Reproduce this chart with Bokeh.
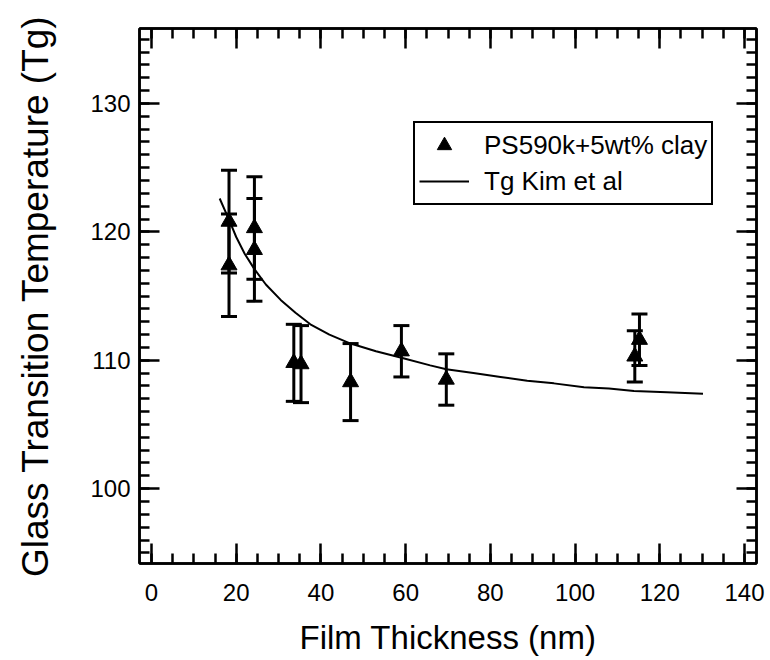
from bokeh.plotting import figure
from bokeh.models import (Range1d, LinearAxis, FixedTicker, Whisker, TeeHead,
                          ColumnDataSource, Legend, LegendItem)
from bokeh.embed import file_html
from bokeh.resources import INLINE

# ---- data ----
thickness = [18.3, 18.3, 24.3, 24.3, 33.6, 35.3, 47.0, 59.0, 69.6, 114.1, 115.2]
tg = [120.8, 117.4, 120.3, 118.6, 109.8, 109.7, 108.3, 110.7, 108.5, 110.3, 111.6]
tg_err = [4.0, 4.0, 4.0, 4.0, 3.0, 3.0, 3.0, 2.0, 2.0, 2.0, 2.0]

kim_x = [16.1, 18.5, 20, 22, 24.3, 27, 30.5, 34, 37.5, 42, 47, 53, 59, 65.8,
         69.6, 76, 82.4, 88.7, 95, 102.1, 108, 113.9, 121.7, 130.2]
kim_tg = [122.6, 120.8, 119.6, 118.3, 117.1, 115.9, 114.7, 113.7, 112.8, 112.0,
          111.3, 110.7, 110.2, 109.6, 109.3, 109.0, 108.7, 108.4, 108.2, 107.9,
          107.8, 107.6, 107.5, 107.4]

x_major = [0, 20, 40, 60, 80, 100, 120, 140]
x_minor = [v for v in range(0, 145, 5)]
y_major = [100, 110, 120, 130]
y_minor = [v for v in range(94, 137)]

series_label = "PS590k+5wt% clay"
model_label = "Tg Kim et al"
x_title = "Film Thickness (nm)"
y_title = "Glass Transition Temperature (Tg)"

FONT = "Liberation Sans"

src = ColumnDataSource(dict(
    x=thickness, y=tg,
    lo=[a - b for a, b in zip(tg, tg_err)],
    hi=[a + b for a, b in zip(tg, tg_err)],
))

p = figure(width=770, height=660, output_backend="svg", toolbar_location=None,
           x_range=Range1d(-2.83, 142.83), y_range=Range1d(94.17, 135.84),
           min_border_left=139, min_border_right=14, min_border_top=28,
           min_border_bottom=97)
p.background_fill_color = "white"
p.border_fill_color = "white"
p.outline_line_color = "black"
p.outline_line_width = 2.5
p.grid.visible = False

def style_axis(ax, ticks, minor, labels=True):
    ax.ticker = FixedTicker(ticks=ticks, minor_ticks=minor)
    ax.axis_line_color = "black"
    ax.axis_line_width = 2.5
    ax.major_tick_line_color = "black"
    ax.major_tick_line_width = 2.5
    ax.minor_tick_line_color = "black"
    ax.minor_tick_line_width = 2.5
    ax.major_tick_out = 0
    ax.major_tick_in = 20
    ax.minor_tick_out = 0
    ax.minor_tick_in = 10
    ax.major_label_text_font = FONT
    ax.major_label_text_color = "black"
    ax.axis_label_text_font = FONT
    ax.axis_label_text_font_style = "normal"
    ax.axis_label_text_color = "black"
    if labels:
        ax.major_label_text_font_size = "24px"
    else:
        ax.major_label_overrides = {t: "" for t in ticks}
        ax.major_label_standoff = 0

xa = p.xaxis[0]
style_axis(xa, x_major, x_minor)
xa.axis_label = x_title
xa.axis_label_text_font_size = "33px"
xa.major_label_standoff = 20
xa.axis_label_standoff = 15

ya = p.yaxis[0]
style_axis(ya, y_major, y_minor)
ya.axis_label = y_title
ya.axis_label_text_font_size = "37px"
ya.major_label_standoff = 9
ya.axis_label_standoff = 31

top = LinearAxis()
style_axis(top, x_major, x_minor, labels=False)
p.add_layout(top, "above")
right = LinearAxis()
style_axis(right, y_major, y_minor, labels=False)
p.add_layout(right, "right")

# model curve
kim = p.line(kim_x, kim_tg, line_color="black", line_width=2)

# error bars
p.add_layout(Whisker(source=src, base="x", lower="lo", upper="hi",
                     line_color="black", line_width=3,
                     upper_head=TeeHead(size=16, line_color="black", line_width=3),
                     lower_head=TeeHead(size=16, line_color="black", line_width=3)))

pts = p.scatter("x", "y", source=src, marker="triangle", size=16,
                fill_color="black", line_color="black", line_width=1)

legend = Legend(items=[LegendItem(label=series_label, renderers=[pts]),
                       LegendItem(label=model_label, renderers=[kim])],
                location=(274, 358))
legend.label_text_font = FONT
legend.label_text_font_size = "26px"
legend.label_text_color = "black"
legend.glyph_width = 50
legend.glyph_height = 36
legend.label_height = 36
legend.spacing = 0
legend.padding = 4
legend.margin = 0
legend.label_standoff = 15
legend.border_line_color = "black"
legend.border_line_width = 2
legend.border_line_alpha = 1
legend.background_fill_color = "white"
legend.background_fill_alpha = 1
p.add_layout(legend, "center")

open("out.html", "w").write(file_html(p, INLINE))
